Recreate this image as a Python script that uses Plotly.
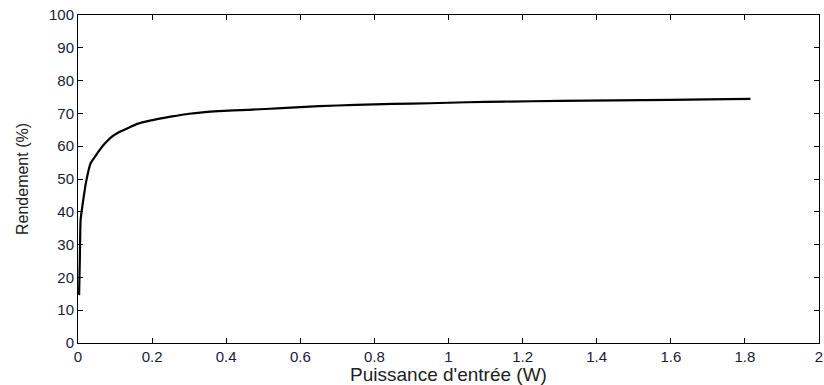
import plotly.graph_objects as go

puissance = [0.003, 0.005, 0.007, 0.013, 0.022, 0.034, 0.05, 0.07, 0.09, 0.113, 0.14, 0.16,
             0.194, 0.25, 0.3, 0.38, 0.46, 0.55, 0.65, 0.75, 0.85, 0.95, 1.05, 1.15, 1.3,
             1.45, 1.6, 1.7, 1.815]
rendement = [14.6, 26.0, 37.5, 42.7, 49.2, 54.8, 57.5, 60.5, 62.8, 64.4, 65.8, 66.8,
             67.8, 69.0, 69.9, 70.7, 71.1, 71.6, 72.2, 72.6, 72.9, 73.1, 73.4, 73.6, 73.8,
             74.0, 74.1, 74.3, 74.4]
x_ticks = [0, 0.2, 0.4, 0.6, 0.8, 1, 1.2, 1.4, 1.6, 1.8, 2]
x_labels = ["0", "0.2", "0.4", "0.6", "0.8", "1", "1.2", "1.4", "1.6", "1.8", "2"]
y_ticks = [0, 10, 20, 30, 40, 50, 60, 70, 80, 90, 100]

fig = go.Figure()
fig.add_trace(go.Scatter(x=puissance, y=rendement, mode="lines",
                         line=dict(color="black", width=2.2, shape="spline", smoothing=0.4),
                         showlegend=False))

axis_common = dict(showgrid=False, zeroline=False, showline=True, linecolor="black",
                   linewidth=1, mirror="ticks", ticks="inside", ticklen=5,
                   tickcolor="black", automargin=False,
                   tickfont=dict(family="Liberation Sans, Arial", size=15, color="#1a1a3a"))
fig.update_layout(
    width=824, height=385,
    margin=dict(l=78, r=5, t=15, b=42),
    paper_bgcolor="white", plot_bgcolor="white",
    xaxis=dict(range=[0, 2], tickvals=x_ticks, ticktext=x_labels,
               title=dict(text="Puissance d'entrée (W)", standoff=7,
                          font=dict(family="Liberation Sans, Arial", size=19, color="#222")),
               **axis_common),
    yaxis=dict(range=[0, 100], tickvals=y_ticks,
               title=dict(text="Rendement (%)", standoff=16,
                          font=dict(family="Liberation Sans, Arial", size=16, color="#222")),
               **axis_common),
)
fig.write_html("out.html", config={"displayModeBar": False},
               post_script="document.body.style.margin='0';")
